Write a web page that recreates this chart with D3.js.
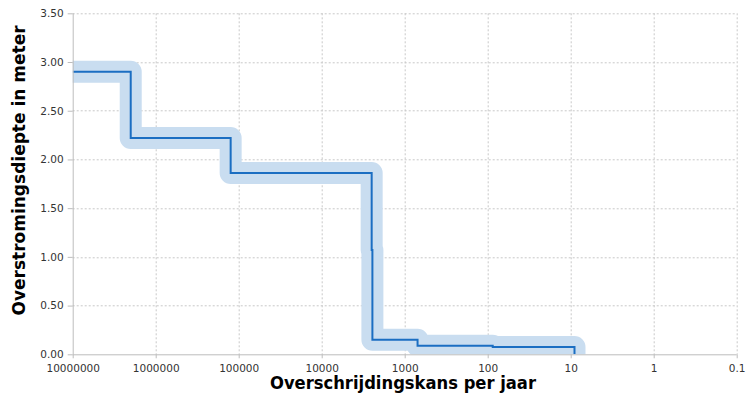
<!DOCTYPE html>
<html>
<head>
<meta charset="utf-8">
<script src="https://cdn.jsdelivr.net/npm/d3@7"></script>
<style>
  html, body { margin: 0; padding: 0; background: #fff; }
  svg { display: block; }
</style>
</head>
<body>
<svg id="chart" width="747" height="402"></svg>
<script>
// Overschrijdingskans (1/jaar, als terugkeertijd) en bijbehorende overstromingsdiepte
const kans   = [10000000, 2000000, 125000, 2500, 2450, 700, 87, 9];
const diepte = [2.90, 2.22, 1.86, 1.07, 0.15, 0.088, 0.075, 0.0];

const xTicks = [10000000, 1000000, 100000, 10000, 1000, 100, 10, 1, 0.1];
const xTickLabels = ["10000000", "1000000", "100000", "10000", "1000", "100", "10", "1", "0.1"];
const yTicks = [0, 0.5, 1, 1.5, 2, 2.5, 3, 3.5];

const W = 747, H = 402;
const m = { left: 72.7, right: 10.3, top: 13.3, bottom: 47.7 };
const iw = W - m.left - m.right, ih = H - m.top - m.bottom;

const svg = d3.select("#chart");
const g = svg.append("g").attr("transform", `translate(${m.left},${m.top})`);

const x = d3.scaleLog().domain([10000000, 0.1]).range([0, iw]);
const y = d3.scaleLinear().domain([0, 3.5]).range([ih, 0]);

const font = "'DejaVu Sans', Verdana, sans-serif";

// Rasterlijnen
g.append("g").selectAll("line").data(yTicks.filter(d => d > 0)).join("line")
  .attr("x1", 0).attr("x2", iw)
  .attr("y1", d => Math.round(y(d)) + 0.5).attr("y2", d => Math.round(y(d)) + 0.5)
  .attr("stroke", "#c8c8c8").attr("stroke-dasharray", "2,2");
g.append("g").selectAll("line").data(xTicks.slice(1)).join("line")
  .attr("x1", d => Math.round(x(d)) + 0.5).attr("x2", d => Math.round(x(d)) + 0.5)
  .attr("y1", 0).attr("y2", ih)
  .attr("stroke", "#c8c8c8").attr("stroke-dasharray", "2,2");

// Trappenlijn met lichtblauwe band
g.append("clipPath").attr("id", "plotclip")
  .append("rect").attr("x", 0).attr("y", -20).attr("width", iw).attr("height", ih + 20);

const pts = kans.map((k, i) => [k, diepte[i]]);
const line = d3.line().x(d => x(d[0])).y(d => y(d[1])).curve(d3.curveStepAfter);

const plot = g.append("g").attr("clip-path", "url(#plotclip)");
plot.append("path").datum(pts).attr("d", line)
  .attr("fill", "none").attr("stroke", "#c9ddf0").attr("stroke-width", 22)
  .attr("stroke-linejoin", "round").attr("stroke-linecap", "round");
plot.append("path").datum(pts).attr("d", line)
  .attr("fill", "none").attr("stroke", "#1b6ec2").attr("stroke-width", 2)
  .attr("stroke-linejoin", "miter");

// Y-as
const yAxis = g.append("g")
  .call(d3.axisLeft(y).tickValues(yTicks).tickFormat(d3.format(".2f")).tickSize(5).tickPadding(4));
yAxis.select(".domain").attr("stroke", "#bdbdbd").attr("d", `M0.5,0V${ih}`);
yAxis.selectAll(".tick line").attr("stroke", "#bdbdbd");
yAxis.selectAll(".tick text").attr("font-family", font).attr("font-size", "10.5px").attr("fill", "#333");

// X-as
const xAxis = g.append("g").attr("transform", `translate(0,${ih})`)
  .call(d3.axisBottom(x).tickValues(xTicks).tickFormat((d, i) => xTickLabels[i]).tickSize(4).tickPadding(6));
xAxis.select(".domain").attr("stroke", "#bdbdbd").attr("d", `M0,0.5H${iw}`);
xAxis.selectAll(".tick line").attr("stroke", "#bdbdbd");
xAxis.selectAll(".tick text").attr("font-family", font).attr("font-size", "10.5px").attr("fill", "#333");

// Astitels
svg.append("text")
  .attr("x", 403).attr("y", 389)
  .attr("text-anchor", "middle")
  .attr("font-family", font).attr("font-weight", "bold").attr("font-size", "17px")
  .attr("textLength", 266).attr("lengthAdjust", "spacingAndGlyphs")
  .attr("fill", "#000")
  .text("Overschrijdingskans per jaar");

svg.append("text")
  .attr("transform", "translate(25,170.5) rotate(-90)")
  .attr("text-anchor", "middle")
  .attr("font-family", font).attr("font-weight", "bold").attr("font-size", "17px")
  .attr("fill", "#000")
  .text("Overstromingsdiepte in meter");
</script>
</body>
</html>
